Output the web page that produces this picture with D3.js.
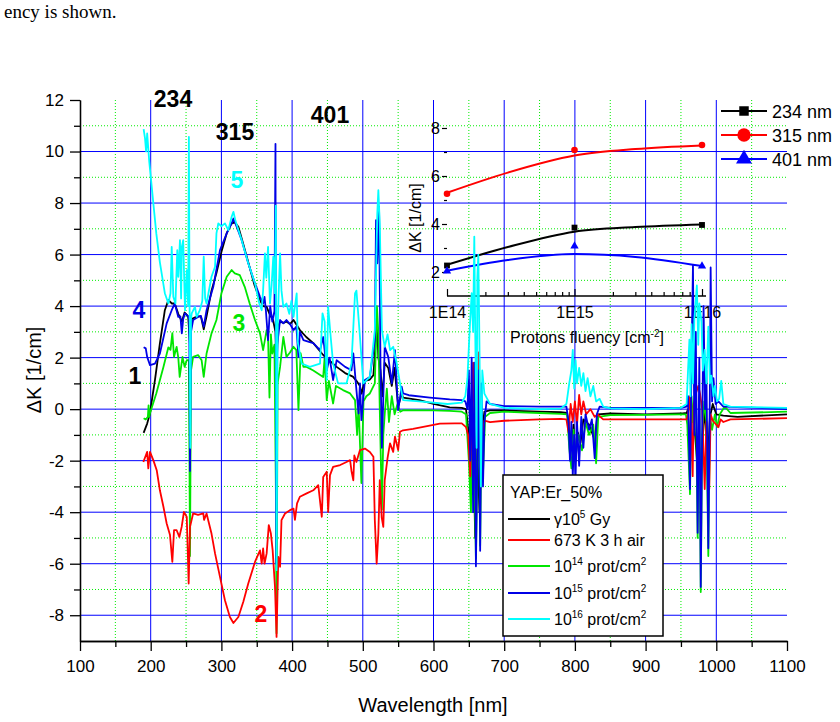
<!DOCTYPE html>
<html>
<head>
<meta charset="utf-8">
<script src="https://cdn.jsdelivr.net/npm/d3@7"></script>
<style>
  body { margin: 0; background: #fff; }
  svg { display: block; font-family: "Liberation Sans", Arial, sans-serif; }
</style>
</head>
<body>
<svg id="chart" width="840" height="722"></svg>
<script>
// ---- data: [wavelength nm, dK 1/cm] ----
var gammaSpectrum = [[190,-0.92],[195,-0.56],[199,-0.17],[201,0.22],[206,1.13],[213,2.55],[220,3.84],[225,4.23],[230,4.1],[234,4.1],[239,3.7],[244,3.4],[248,3.75],[253,3.6],[255.6,2.5],[258,3.5],[262,3.55],[267,3.6],[271,3.6],[275,3.1],[279,3.6],[286,4.6],[293,5.28],[300,6.1],[307.5,6.83],[314,7.2],[319,7.25],[324,7.08],[331,6.4],[340,5.5],[347,4.8],[354.6,4.23],[359,4.0],[364,3.97],[368,3.7],[373,3.46],[376.5,3.0],[378,1.5],[380,3.2],[383,3.4],[388,3.35],[392,3.4],[397,3.3],[402,3.46],[411,3.07],[420,2.8],[430,2.56],[444,2.1],[463,1.64],[475,1.4],[486,1.26],[491,1.1],[496,0.9],[498,0.6],[503,1.1],[510,1.15],[515,1.32],[518,2.5],[520,3.5],[522,2.0],[525,1.5],[528,0.5],[531,1.8],[536,1.6],[541,0.9],[545,1.6],[550,0.1],[555,0.6],[557,0.45],[580,0.35],[600,0.2],[623,0.07],[640,0.05],[646,0.0],[650,-1.0],[653,-3.5],[656,-1.0],[659,-5.0],[662,-1.5],[665,-4.0],[668,-1.0],[672,-0.1],[680,-0.05],[700,-0.05],[750,-0.1],[780,-0.12],[789,-0.15],[792,-0.8],[795,-1.6],[798,-0.6],[801,-2.0],[804,-0.9],[808,-1.3],[812,-0.4],[820,-0.6],[828,-1.2],[832,-0.2],[850,-0.17],[900,-0.2],[950,-0.17],[958,-0.15],[960,0.0],[963,-2.0],[966,0.1],[970,-1.0],[974,-2.5],[976,-1.5],[978,-3.0],[981,-1.0],[984,0.0],[988,-2.0],[991,-0.3],[995,0.2],[1000,-0.2],[1010,-0.25],[1030,-0.3],[1100,-0.2]];

var annealedSpectrum = [[189.6,-2.05],[195,-1.66],[196.6,-2.3],[199,-1.66],[203.7,-1.98],[208.5,-2.37],[213,-3.15],[218,-3.79],[222.6,-4.44],[227.3,-4.89],[230.6,-5.93],[233,-4.7],[236.7,-4.7],[240.5,-4.96],[243.8,-4.57],[247,-3.99],[251,-4.18],[253.7,-6.77],[255.6,-4.57],[260,-4.05],[267,-4.1],[274.4,-4.05],[275.5,-4.3],[279,-4.05],[286,-4.83],[291,-5.6],[298,-6.51],[305,-7.42],[312,-8.07],[317,-8.3],[324,-8.07],[331,-7.48],[338,-6.77],[347.5,-5.93],[354.6,-5.48],[357,-6.0],[359,-5.41],[361,-6.0],[364,-5.6],[367,-4.5],[370,-4.83],[372.5,-5.48],[375.8,-6.9],[378,-8.84],[380.5,-5.74],[383,-6.12],[385,-4.31],[390,-4.05],[397,-3.92],[402,-3.86],[404,-4.3],[407,-3.66],[411,-3.4],[420.6,-3.27],[430,-3.15],[437,-2.95],[442,-4.18],[444,-2.63],[449,-2.43],[451,-3.99],[453.6,-2.56],[458,-2.24],[468,-2.17],[477,-2.05],[482,-1.98],[484,-2.4],[486.6,-2.76],[488,-1.8],[491,-2.05],[496,-1.59],[503,-1.53],[510,-1.66],[515,-1.85],[517,-4.31],[519.6,-6.0],[522,-4.83],[524,-2.76],[526.7,-4.2],[529,-4.57],[531,-2.76],[535,-1.9],[538.5,-1.33],[543,-1.66],[545.5,-1.07],[550,-1.59],[552.6,-0.88],[557,-0.82],[571,-0.77],[609,-0.56],[630,-0.55],[640,-0.55],[646,-0.7],[649,-1.0],[652,-2.6],[654,-0.5],[656,1.8],[658,-0.5],[660,1.4],[662,-1.0],[664,2.2],[666,-0.8],[668,-2.2],[670,-1.0],[672,-0.45],[680,-0.5],[700,-0.45],[750,-0.4],[780,-0.38],[788,-0.4],[791,-0.9],[794,0.2],[797,-0.5],[800,0.3],[803,-0.6],[806,0.55],[809,-0.2],[812,0.3],[816,-0.2],[822,0.0],[828,-0.3],[832,-0.2],[840,-0.4],[850,-0.4],[900,-0.4],[950,-0.4],[958,-0.4],[960,-0.2],[962.8,0.5],[965,-1.0],[966.6,-2.6],[968,0.2],[971,0.6],[974.5,0.9],[977,0.6],[980,0.0],[983.6,-3.1],[986,-0.5],[990,-3.1],[992,-0.2],[995,-0.45],[1000,-0.6],[1003,-0.7],[1006,-0.4],[1010,-0.5],[1020,-0.4],[1100,-0.35]];

var prot14Spectrum = [[190,-0.35],[193,-0.4],[196,-0.3],[197,0.15],[198,-0.3],[199,-0.16],[208,0.62],[218,1.64],[225,2.4],[228,2.3],[230.6,2.95],[233,2.03],[236.7,2.42],[239,2.0],[241,1.25],[245,2.03],[248,1.64],[251,1.9],[254,1.9],[255.6,-5.7],[257,1.5],[260,2.03],[267,2.1],[272,1.9],[275,1.25],[279,2.16],[286,2.94],[293,3.46],[300,4.49],[307.5,5.14],[314.5,5.4],[319,5.27],[326,5.2],[333,4.75],[340,4.1],[347.5,3.46],[354.6,2.94],[359,2.29],[364,3.07],[366,2.8],[368,0.45],[370,2.9],[372,2.16],[375,2.5],[377,-3.0],[378,-8.7],[379.5,1.0],[383,1.64],[387.6,2.8],[392,2.03],[397,2.2],[402,2.42],[406,2.29],[409,-0.04],[412,2.17],[416,1.64],[420.6,1.64],[430,1.5],[444,1.25],[446,2.0],[449,0.35],[452,1.1],[458,0.22],[462,0.9],[472,0.74],[482,0.61],[489,0.35],[492,-1.0],[494,0.2],[498,-2.87],[501,0.3],[505,0.5],[510,0.61],[517,1.0],[520,4.0],[522,2.94],[524,0.0],[527,-3.9],[529,-1.0],[531,-0.2],[534,0.8],[537,-0.5],[541,0.5],[545,-0.2],[549,0.2],[553,-0.1],[557,-0.04],[600,-0.05],[623,-0.07],[640,-0.1],[646,-0.2],[650,-2.0],[653,-4.0],[655,0.5],[657,-1.0],[660,-5.8],[662,-2.0],[664,0.5],[666,-5.3],[668,-0.5],[670,-2.5],[673,-0.3],[680,-0.15],[700,-0.1],[750,-0.15],[780,-0.18],[789,-0.2],[792,-1.5],[795,-2.3],[798,-0.8],[801,-1.8],[805,-1.0],[810,-1.6],[815,-0.5],[820,-1.0],[826,-0.6],[830,-2.1],[833,-0.3],[850,-0.23],[900,-0.22],[950,-0.2],[957,-0.2],[959,-0.6],[962.8,-3.3],[965,0.5],[967,-0.5],[971,1.0],[973.6,-5.0],[976,0.5],[978,-7.1],[980,-1.0],[983,0.3],[986,-0.5],[988.7,-5.7],[991,-0.3],[994,-0.8],[998,-0.2],[1001,-0.7],[1005,-0.2],[1012,0.1],[1020,-0.15],[1100,-0.1]];

var prot15Spectrum = [[190,2.4],[193,2.36],[195,2.03],[199,1.71],[206,1.77],[213,2.16],[222.6,3.33],[229.7,3.84],[234,4.1],[239,3.58],[242,3.6],[244,2.94],[246,3.5],[248.5,3.72],[253,3.6],[254.5,3.5],[255.6,-2.4],[257,3.0],[260,3.46],[267,3.58],[271,3.62],[275,3.2],[279,3.84],[288.5,4.75],[298,6.17],[307.5,6.82],[314.5,7.21],[317,7.4],[321.6,7.08],[328.7,6.56],[338,5.66],[347.5,4.88],[354.6,4.36],[359,4.1],[361,4.36],[363,3.8],[366,2.68],[369,4.0],[372,3.4],[375,3.8],[376.5,10.3],[377.5,-6.0],[379,2.5],[383,3.46],[387.6,3.33],[392,3.46],[397,3.3],[402,3.07],[406,3.2],[409,2.03],[411,3.0],[416,2.68],[425,2.6],[430,2.56],[439.5,2.29],[444,2.8],[449,1.51],[453,2.0],[458,1.13],[463,1.9],[475,1.64],[484,1.51],[486.6,2.16],[491,0.74],[494,-0.17],[496,1.0],[498,-0.43],[503,1.13],[510,1.25],[517,2.68],[518.7,7.34],[520.5,5.66],[523,7.86],[525,1.77],[527,-1.5],[531,2.42],[536,2.03],[541,1.0],[545.5,2.29],[550,-0.04],[555,0.87],[557,0.61],[565,0.54],[595,0.45],[623,0.38],[640,0.35],[645,0.3],[648,0.0],[650,1.5],[652,-2.0],[654,2.0],[656,-4.0],[658,1.8],[660,-6.1],[662,-2.0],[664,1.5],[666,-5.5],[668,1.0],[670,-3.0],[672,-0.5],[675,0.3],[680,0.2],[700,0.12],[750,0.1],[780,0.1],[788,0.1],[791,-0.5],[793,-2.0],[795,-0.5],[797,-2.6],[799,-1.0],[801,-2.6],[803,-0.5],[806,-2.2],[809,-0.3],[812,-1.5],[815,-0.2],[820,-0.8],[824,-0.4],[828,-1.9],[831,-0.2],[835,0.1],[850,0.05],[900,0.05],[950,0.05],[958,0.1],[960,0.5],[962.8,-3.1],[965,2.0],[967,5.6],[969,-1.0],[971,3.0],[973.6,-4.8],[976,2.0],[978,-6.9],[980,-1.0],[982,4.0],[984,0.0],[986,1.5],[988.7,-5.4],[991,1.0],[992,5.5],[994,0.3],[996,1.2],[999,0.2],[1003,0.3],[1010,0.1],[1100,0.0]];

var prot16Spectrum = [[190,10.87],[192,10.5],[193.5,10.0],[195,10.7],[198,9.6],[203.7,8.0],[208,6.8],[213,5.7],[220,4.5],[225,4.1],[228,4.5],[229.7,6.3],[232,4.36],[235,4.1],[237.6,6.17],[239,5.14],[241.4,6.56],[243,4.3],[244,6.3],[246,6.56],[248.5,3.84],[251,5.4],[253,4.0],[254,10.57],[255,4.0],[256,-1.5],[257,3.5],[258,3.72],[262.6,3.97],[265,3.58],[269.5,3.84],[273,4.2],[275,5.92],[277,4.3],[279,4.1],[286,5.14],[291,5.53],[293,6.82],[295.6,7.21],[300,7.1],[305,7.21],[309.8,6.95],[314.5,7.47],[317,7.66],[320,7.3],[328.7,6.56],[338,5.66],[347.5,4.88],[353.6,4.1],[357,3.84],[359,4.62],[361.6,6.05],[363.5,5.1],[366,6.3],[368.7,4.1],[371,4.8],[373.4,5.92],[375.5,4.5],[377,7.9],[378,-6.25],[379.5,3.0],[381,4.5],[383,6.05],[385,4.6],[387.6,3.97],[392,4.1],[396,3.7],[399,4.2],[402,3.58],[406.5,4.49],[408,2.6],[413.6,1.77],[425,1.64],[439.5,1.77],[443,3.72],[446,3.4],[449,1.13],[451,3.97],[454.6,2.8],[458,1.77],[465,1.0],[477,1.0],[484,1.77],[489,4.49],[491,4.6],[496,2.8],[500.7,1.0],[510,1.25],[517,3.07],[520.5,7.6],[522,8.5],[524,7.2],[527,3.07],[531,2.42],[535,2.9],[538.6,2.29],[543,2.42],[548,1.77],[552.6,1.0],[557,0.35],[580,0.3],[620,0.2],[640,0.25],[645,0.5],[648,1.2],[651,3.0],[654,4.5],[656,3.0],[657.7,6.7],[659,3.0],[661,-1.5],[662,5.1],[663.4,6.0],[665,2.5],[667,-3.0],[669,1.5],[672,0.6],[676,0.4],[680,0.2],[700,0.05],[750,0.0],[780,0.02],[788,0.2],[792,1.0],[795,1.5],[797,2.3],[799,0.8],[801,1.9],[803,1.0],[806,1.6],[809,0.9],[812,1.4],[815,0.7],[818,1.2],[822,0.5],[826,0.9],[830,0.3],[835,0.4],[840,0.1],[850,0.03],[900,0.0],[950,0.05],[958,0.2],[960,1.5],[962,2.7],[963.5,0.5],[965,3.3],[967,1.0],[969,3.5],[972.5,4.8],[974.5,2.5],[976,4.1],[979,3.4],[981,1.5],[983.6,2.3],[986,1.0],[988.7,3.2],[991,1.0],[993,1.3],[996,0.5],[998,0.9],[1001,0.3],[1004,0.4],[1007,1.1],[1010,0.2],[1020,0.1],[1100,0.05]];

var xTicks = [100,200,300,400,500,600,700,800,900,1000,1100];
var yTicks = [-8,-6,-4,-2,0,2,4,6,8,10,12];

// inset: peak height vs proton fluence
var fluence = [1e14, 1e15, 1e16];
var peak234 = [2.27, 3.85, 3.96];
var peak315 = [5.26, 7.08, 7.29];
var peak401 = [2.04, 3.08, 2.25];
var fitFluence = [1e14, 3e14, 1e15, 3e15, 1e16];
var fit234 = [2.3, 3.04, 3.68, 3.87, 3.98];
var fit315 = [5.3, 6.14, 6.85, 7.12, 7.27];
var fit401 = [2.05, 2.5, 2.75, 2.63, 2.25];
var insetTicks = [1e14, 1e15, 1e16];
var insetYTicks = [2, 4, 6, 8];

var svg = d3.select('#chart');

// tail of the page sentence above the figure
svg.append('text')
  .attr('x', 4).attr('y', 18)
  .attr('font-family', '"Liberation Serif", "Times New Roman", serif')
  .attr('font-size', 19)
  .text('ency is shown.');

var x = d3.scaleLinear().domain([100, 1100]).range([80, 787]);
var y = d3.scaleLinear().domain([-9, 12]).range([641, 100]);

// grid
var grid = svg.append('g');
grid.selectAll('.vmin').data(d3.range(150, 1100, 100)).enter().append('line')
  .attr('x1', d => x(d)).attr('x2', d => x(d)).attr('y1', y(12)).attr('y2', y(-9))
  .attr('stroke', '#00ee00').attr('stroke-dasharray', '1,2');
grid.selectAll('.hmin').data(d3.range(-7, 12, 2)).enter().append('line')
  .attr('x1', x(100)).attr('x2', x(1100)).attr('y1', d => y(d)).attr('y2', d => y(d))
  .attr('stroke', '#00ee00').attr('stroke-dasharray', '1,2');
grid.selectAll('.vmaj').data(d3.range(200, 1100, 100)).enter().append('line')
  .attr('x1', d => x(d)).attr('x2', d => x(d)).attr('y1', y(12)).attr('y2', y(-9))
  .attr('stroke', '#0000ff');
grid.selectAll('.hmaj').data(d3.range(-8, 12, 2)).enter().append('line')
  .attr('x1', x(100)).attr('x2', x(1100)).attr('y1', d => y(d)).attr('y2', d => y(d))
  .attr('stroke', '#0000ff');

// main axes
svg.append('g').attr('transform', 'translate(80,0)')
  .call(d3.axisLeft(y).tickValues(yTicks).tickSize(10).tickSizeOuter(0).tickPadding(6).tickFormat(d => String(d)));
svg.append('g').attr('transform', 'translate(80,0)')
  .call(d3.axisLeft(y).tickValues(d3.range(-7, 12, 2)).tickSize(6).tickSizeOuter(0).tickFormat(''));
svg.append('g').attr('transform', 'translate(0,641)')
  .call(d3.axisBottom(x).tickValues(xTicks).tickSize(10).tickSizeOuter(0).tickPadding(9).tickFormat(d => String(d)));
svg.append('g').attr('transform', 'translate(0,641)')
  .call(d3.axisBottom(x).tickValues(d3.range(150, 1100, 100)).tickSize(6).tickSizeOuter(0).tickFormat(''));
svg.selectAll('.tick text').attr('font-size', 17).attr('font-family', '"Liberation Sans", Arial, sans-serif').attr('fill', '#000');
svg.selectAll('.domain, .tick line').attr('stroke', '#000').attr('stroke-width', 1.3);

svg.append('text')
  .attr('x', 433).attr('y', 712).attr('text-anchor', 'middle').attr('font-size', 20)
  .text('Wavelength [nm]');
svg.append('text')
  .attr('transform', 'translate(41,370) rotate(-90)').attr('text-anchor', 'middle').attr('font-size', 20)
  .text('\u0394K [1/cm]');

// ---- inset ----
var ix = d3.scaleLog().domain([1e14, 1e16]).range([447, 702]);
var iy = d3.scaleLinear().domain([1, 8]).range([296, 128]);
var inset = svg.append('g');
inset.append('g').attr('transform', 'translate(447,0)')
  .call(d3.axisLeft(iy).tickValues(insetYTicks).tickSize(5).tickSizeOuter(0).tickPadding(2).tickFormat(d => String(d)));
inset.append('g').attr('transform', 'translate(447,0)')
  .call(d3.axisLeft(iy).tickValues([3, 5, 7]).tickSize(3).tickSizeOuter(0).tickFormat(''));
var minorFl = [];
[1e14, 1e15].forEach(dec => { for (var k = 2; k <= 9; k++) minorFl.push(dec * k); });
inset.append('line').attr('x1', 447).attr('x2', 706).attr('y1', 296).attr('y2', 296)
  .attr('stroke', '#000').attr('stroke-width', 1.3);
inset.append('g').attr('transform', 'translate(0,296)')
  .call(d3.axisBottom(ix).tickValues(minorFl).tickSize(-4).tickSizeOuter(0).tickFormat(''));
inset.append('g').attr('transform', 'translate(0,296)')
  .call(d3.axisBottom(ix).tickValues(insetTicks).tickSize(-7).tickSizeOuter(0).tickPadding(11)
    .tickFormat(d => '1E' + Math.round(Math.log10(d))));
inset.selectAll('.domain').remove();
inset.selectAll('.tick text').attr('font-size', 16).attr('font-family', '"Liberation Sans", Arial, sans-serif').attr('fill', '#000');
inset.selectAll('.tick line').attr('stroke', '#000').attr('stroke-width', 1.2);
inset.append('text')
  .attr('transform', 'translate(421,218) rotate(-90)').attr('text-anchor', 'middle').attr('font-size', 16)
  .text('\u0394K [1/cm]');
var pfl = inset.append('text').attr('x', 587).attr('y', 343).attr('text-anchor', 'middle').attr('font-size', 16);
pfl.append('tspan').text('Protons fluency [cm');
pfl.append('tspan').attr('dy', -6).attr('font-size', 10).text('-2');
pfl.append('tspan').attr('dy', 6).text(']');

var fitLine = d3.line().x(d => ix(d[0])).y(d => iy(d[1])).curve(d3.curveMonotoneX);
var insetSeries = [
  { peaks: peak234, fit: fit234, color: '#000000', shape: d3.symbolSquare, size: 34 },
  { peaks: peak315, fit: fit315, color: '#ff0000', shape: d3.symbolCircle, size: 34 },
  { peaks: peak401, fit: fit401, color: '#0000ff', shape: d3.symbolTriangle, size: 30 }
];
insetSeries.forEach(s => {
  inset.append('path')
    .attr('d', fitLine(fitFluence.map((f, i) => [f, s.fit[i]])))
    .attr('fill', 'none').attr('stroke', s.color).attr('stroke-width', 2);
  inset.selectAll(null).data(fluence.map((f, i) => [f, s.peaks[i]])).enter().append('path')
    .attr('d', d3.symbol().type(s.shape).size(s.size))
    .attr('transform', d => 'translate(' + ix(d[0]) + ',' + iy(d[1]) + ')')
    .attr('fill', s.color);
});

// ---- spectra ----
var line = d3.line().x(d => x(d[0])).y(d => y(d[1]));
var spectra = [
  { data: gammaSpectrum, color: '#000000' },
  { data: prot14Spectrum, color: '#00e600' },
  { data: annealedSpectrum, color: '#ff0000' },
  { data: prot15Spectrum, color: '#0000e6' },
  { data: prot16Spectrum, color: '#00ffff' }
];
svg.append('g').selectAll('path').data(spectra).enter().append('path')
  .attr('d', d => line(d.data))
  .attr('fill', 'none')
  .attr('stroke', d => d.color)
  .attr('stroke-width', 1.8)
  .attr('stroke-linejoin', 'round');

// ---- top-right legend (inset markers) ----
var tl = svg.append('g');
var tlRows = [
  { label: '234 nm', color: '#000000', shape: d3.symbolSquare, size: 90 },
  { label: '315 nm', color: '#ff0000', shape: d3.symbolCircle, size: 140 },
  { label: '401 nm', color: '#0000ff', shape: d3.symbolTriangle, size: 110 }
];
tlRows.forEach((r, i) => {
  var yy = 111 + i * 24;
  tl.append('line').attr('x1', 721).attr('x2', 767).attr('y1', yy).attr('y2', yy)
    .attr('stroke', r.color).attr('stroke-width', 2);
  tl.append('path').attr('d', d3.symbol().type(r.shape).size(r.size))
    .attr('transform', 'translate(744,' + yy + ')').attr('fill', r.color);
  tl.append('text').attr('x', 772).attr('y', yy + 6.5).attr('font-size', 18).text(r.label);
});

// ---- bottom legend box ----
var lg = svg.append('g');
lg.append('rect').attr('x', 503).attr('y', 475).attr('width', 160).attr('height', 161)
  .attr('fill', '#fff').attr('stroke', '#000').attr('stroke-width', 1.5);
lg.append('text').attr('x', 510).attr('y', 498).attr('font-size', 16).text('YAP:Er_50%');
var lgRows = [
  { color: '#000000', y: 519, parts: [['\u03b310', 0], ['5', 1], [' Gy', 0]] },
  { color: '#ff0000', y: 540, parts: [['673 K 3 h air', 0]] },
  { color: '#00e600', y: 566, parts: [['10', 0], ['14', 1], [' prot/cm', 0], ['2', 1]] },
  { color: '#0000e6', y: 593, parts: [['10', 0], ['15', 1], [' prot/cm', 0], ['2', 1]] },
  { color: '#00ffff', y: 619, parts: [['10', 0], ['16', 1], [' prot/cm', 0], ['2', 1]] }
];
lgRows.forEach(r => {
  lg.append('line').attr('x1', 508).attr('x2', 550).attr('y1', r.y).attr('y2', r.y)
    .attr('stroke', r.color).attr('stroke-width', 1.8);
  var t = lg.append('text').attr('x', 554).attr('y', r.y + 6).attr('font-size', 16);
  var up = 0;
  r.parts.forEach(p => {
    var dy = p[1] ? -7 - up : -up;
    t.append('tspan').attr('dy', dy).attr('font-size', p[1] ? 10 : 16).text(p[0]);
    up = p[1] ? -7 : 0;
  });
});

// ---- curve annotations ----
var notes = [
  { t: '234', x: 173, y: 107, c: '#000' },
  { t: '315', x: 235, y: 140, c: '#000' },
  { t: '401', x: 330, y: 123, c: '#000' },
  { t: '5', x: 237, y: 188, c: '#00ffff' },
  { t: '4', x: 139, y: 318, c: '#0000e6' },
  { t: '3', x: 239, y: 331, c: '#00e600' },
  { t: '1', x: 135, y: 384, c: '#000' },
  { t: '2', x: 261, y: 622, c: '#ff0000' }
];
svg.append('g').selectAll('text').data(notes).enter().append('text')
  .attr('x', d => d.x).attr('y', d => d.y).attr('text-anchor', 'middle')
  .attr('font-size', 23).attr('font-weight', 'bold').attr('fill', d => d.c)
  .text(d => d.t);
</script>
</body>
</html>
